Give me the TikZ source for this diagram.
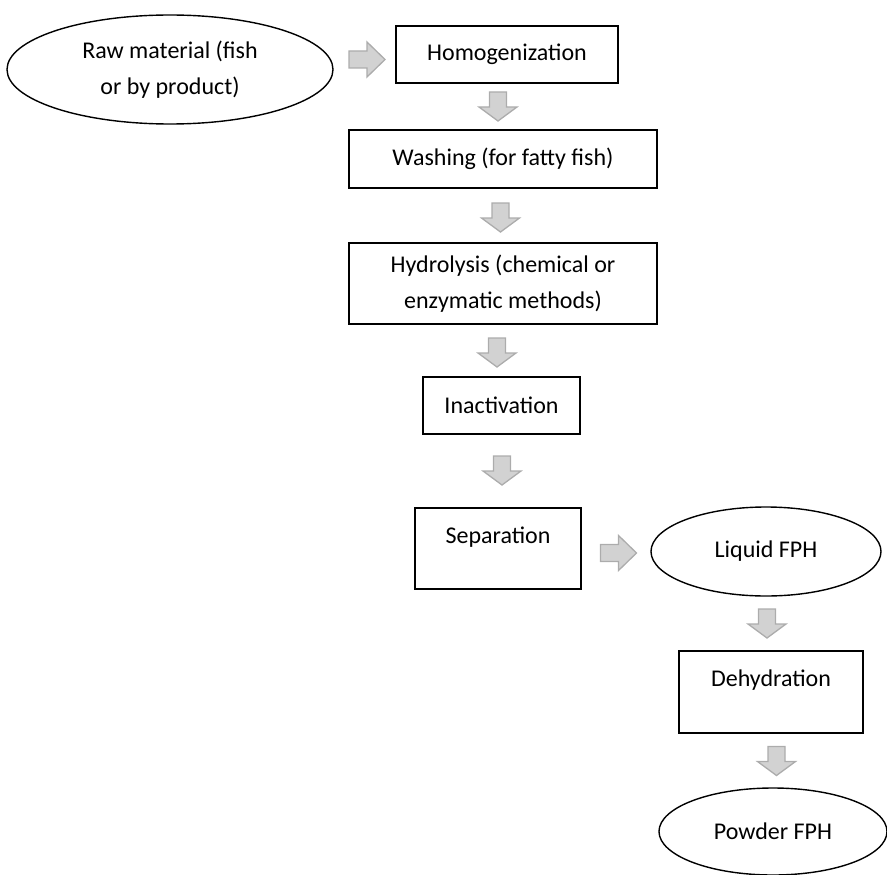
\documentclass[tikz,border=0pt]{standalone}
\usepackage{fontspec}
\setmainfont{Carlito}
\usetikzlibrary{shapes.geometric}

\begin{document}
\begin{tikzpicture}[x=1pt,y=-1pt,line width=1.4pt,
        font=\fontsize{24}{36}\selectfont,
        stepbox/.style={draw, rectangle, inner sep=0pt, align=center},
        endoval/.style={draw, ellipse, inner sep=0pt, align=center},
        topbox/.style={stepbox, text height=17pt, text depth=28pt},
        downarr/.pic={\draw[draw=gray!65, fill=gray!35, line width=1.3pt] (-8.5,-14.5) -- (8.5,-14.5) -- (8.5,0.5) -- (19,0.5) -- (0,14.5) -- (-19,0.5) -- (-8.5,0.5) -- cycle;},
        rightarr/.pic={\draw[draw=gray!65, fill=gray!35, line width=1.3pt] (-18,-8.5) -- (0,-8.5) -- (0,-17.5) -- (18,0) -- (0,17.5) -- (0,8.5) -- (-18,8.5) -- cycle;}]

                \useasboundingbox (0,0) rectangle (887,875);

                % start
                \node[endoval, minimum width=326pt, minimum height=109pt] (raw) at (170,69.5) {Raw material (fish\\or by product)};

                % steps
                \node[stepbox, minimum width=222pt, minimum height=57pt] (homog) at (507,54.5) {Homogenization};
                \node[stepbox, minimum width=308pt, minimum height=58pt] (wash) at (503,159) {Washing (for fatty fish)};
                \node[stepbox, minimum width=308pt, minimum height=81pt] (hydro) at (503,283.5) {Hydrolysis (chemical or\\enzymatic methods)};
                \node[stepbox, minimum width=157pt, minimum height=57pt] (inact) at (501.5,405.5) {Inactivation};
                \node[topbox, minimum width=166pt, minimum height=81pt] (sep) at (498,548.5) {Separation};

                % products
                \node[endoval, minimum width=230pt, minimum height=89pt] (liquid) at (766,551.5) {Liquid FPH};
                \node[topbox, minimum width=184pt, minimum height=82pt] (dehyd) at (771,692) {Dehydration};
                \node[endoval, minimum width=228pt, minimum height=87pt] (powder) at (773,831.5) {Powder FPH};

                % block arrows
                \pic (a1) at (367,59.5) {rightarr};
                \pic (a2) at (498,106.5) {downarr};
                \pic (a3) at (500.5,217.5) {downarr};
                \pic (a4) at (497,352.5) {downarr};
                \pic (a5) at (502,470.5) {downarr};
                \pic (a6) at (618.5,553) {rightarr};
                \pic (a7) at (767,623.5) {downarr};
                \pic (a8) at (776.5,761) {downarr};

            \end{tikzpicture}
\end{document}
